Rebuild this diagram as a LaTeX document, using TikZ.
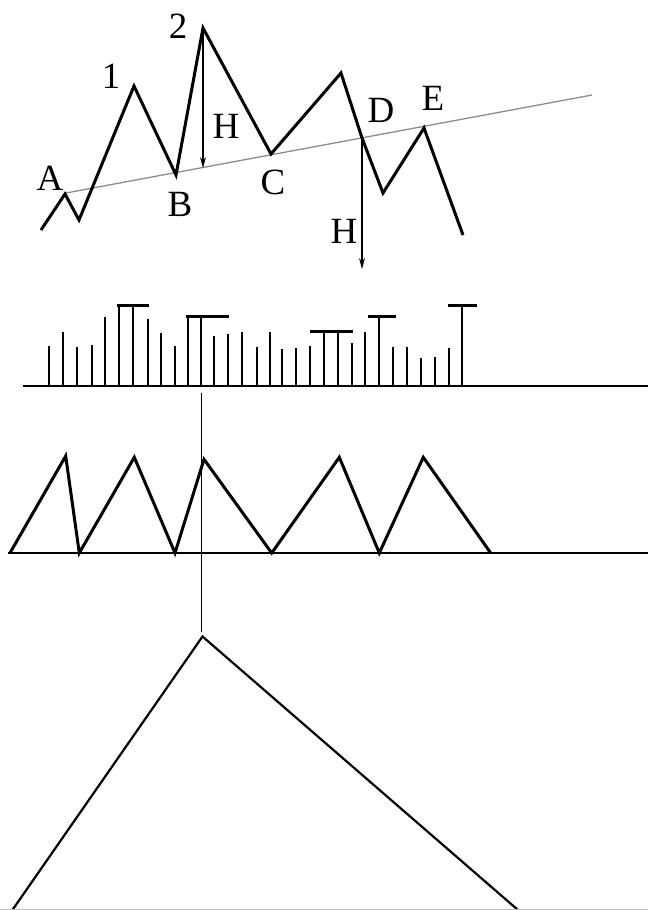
\documentclass[tikz,border=0pt]{standalone}
\usepackage{fontspec}
\setmainfont{Liberation Serif}
\usetikzlibrary{arrows.meta}
\begin{document}
\begin{tikzpicture}[x=1pt,y=-1pt,
  thickline/.style={line width=3pt,line join=miter,line cap=butt},
  triline/.style={line width=2.2pt,line join=miter},
  bar/.style={line width=1.8pt},
  tbar/.style={line width=3pt},
  thin/.style={line width=1.2pt},
  trend/.style={line width=1.3pt,draw=black!45},
  harrow/.style={line width=1.2pt,-{Stealth[length=11pt,width=6pt]}},
  lbl/.style={font=\fontsize{37}{37}\selectfont,inner sep=0pt}]
\useasboundingbox (0,0) rectangle (648,910);
% top wave
\coordinate (s0) at (41,230);
\coordinate (pA) at (65,194);
\coordinate (t1) at (79,220);
\coordinate (p1) at (134,86);
\coordinate (pB) at (176,175);
\coordinate (p2) at (203,28);
\coordinate (pC) at (271,154);
\coordinate (p3) at (341,73);
\coordinate (pD) at (362,138);
\coordinate (t2) at (383,193);
\coordinate (pE) at (424,128);
\coordinate (s1) at (463,235);
\coordinate (trendL) at (66,193);
\coordinate (trendR) at (592,95);
\draw[trend] (trendL) -- (trendR);
\draw[thickline] (s0) -- (pA) -- (t1) -- (p1) -- (pB) -- (p2) -- (pC) -- (p3) -- (pD) -- (t2) -- (pE) -- (s1);
\coordinate (h1end) at (203,168);
\coordinate (h2end) at (362,269);
\draw[harrow] (p2) -- (h1end);
\draw[harrow] (pD) -- (h2end);
\node[lbl] (lA) at (50,178) {A};
\node[lbl] (l1) at (111,76) {1};
\node[lbl] (l2) at (178,26) {2};
\node[lbl] (lB) at (180,204) {B};
\node[lbl] (lH1) at (226,126) {H};
\node[lbl] (lC) at (273,182) {C};
\node[lbl] (lD) at (381,110) {D};
\node[lbl] (lE) at (433,98) {E};
\node[lbl] (lH2) at (344,231) {H};
% bar chart
\coordinate (bl0) at (23,386);
\coordinate (bl1) at (648,386);
\draw[thin] (bl0) -- (bl1);
\foreach \x/\t in {49.3/345.7,63.3/332.3,77.3/346.7,91.7/345.3,105/317.3,119.3/305,133.3/305,147.7/319.3,160.7/333.3,174.7/345.7,187.7/316,201/316,214.3/335.7,227.7/334.3,242.3/332.3,256.7/346.7,270/331.7,282.3/349,295.7/348.3,310/346,324/331.3,338.3/331.3,351.7/342.7,365/331.7,379/316,392.7/346.7,406.7/346.7,420.7/358.3,435/356.7,449.3/347.7,462.3/305}
  \draw[bar] (\x,386) -- (\x,\t);
\draw[tbar] (116.7,305) -- (149,305);
\draw[tbar] (186,316) -- (229.3,316);
\draw[tbar] (310,331.3) -- (353.3,331.3);
\draw[tbar] (368.3,316) -- (395.7,316);
\draw[tbar] (448.3,305) -- (476.7,305);
% vertical guide
\coordinate (v0) at (201.5,393);
\coordinate (v1) at (201.5,632);
\draw[thin] (v0) -- (v1);
% middle zigzag
\coordinate (zb0) at (8,553);
\coordinate (zb1) at (648,553);
\draw[thin] (zb0) -- (zb1);
\draw[thickline] (10,553) -- (65.7,456) -- (79.3,553) -- (134.3,457.3) -- (175,553) -- (204,459.3) -- (271.7,553) -- (339.3,457.3) -- (379.3,553) -- (423.3,457.3) -- (490.7,553);
% triangle
\coordinate (ta) at (202.5,636.5);
\coordinate (tl) at (12.4,910);
\coordinate (tr) at (518,910);
\draw[triline] (tl) -- (ta) -- (tr);
\coordinate (bb0) at (0,909.3);
\coordinate (bb1) at (648,909.3);
\draw[line width=1.2pt,draw=black!25] (bb0) -- (bb1);
\end{tikzpicture}
\end{document}
